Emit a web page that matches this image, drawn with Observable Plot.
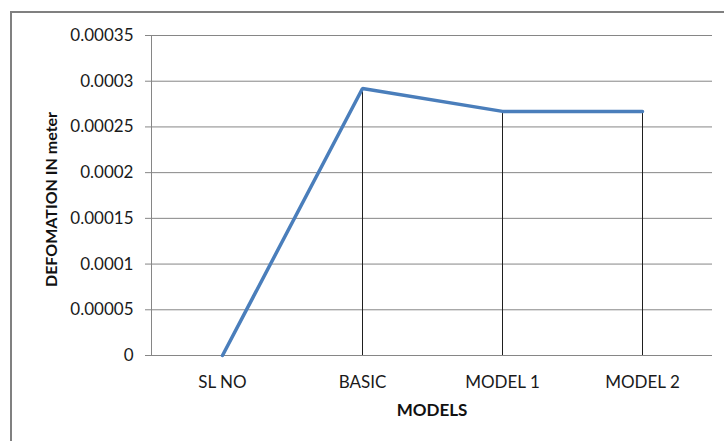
<!DOCTYPE html>
<html>
<head>
<meta charset="utf-8">
<script src="https://cdn.jsdelivr.net/npm/d3@7"></script>
<script src="https://cdn.jsdelivr.net/npm/@observablehq/plot@0.6"></script>
<style>
  html, body { margin: 0; padding: 0; background: #fff; overflow: hidden; }
  #wrap { position: relative; width: 724px; height: 441px; overflow: hidden; }
  #wrap svg { position: absolute; left: 0; top: 0; }
  #border { position: absolute; left: 10px; top: 11px; width: 760px; height: 480px;
            border-left: 2px solid #808080; border-top: 2px solid #808080; pointer-events: none; }
</style>
</head>
<body>
<div id="wrap"><div id="border"></div></div>
<script>
// Deformation of each model, in metres
const models = ["SL NO", "BASIC", "MODEL 1", "MODEL 2"];
const deformation = [0, 0.000292, 0.000267, 0.000267];
const yTicks = [0, 0.00005, 0.0001, 0.00015, 0.0002, 0.00025, 0.0003, 0.00035];
const yTickLabels = ["0", "0.00005", "0.0001", "0.00015", "0.0002", "0.00025", "0.0003", "0.00035"];

const rows = models.map((m, i) => ({model: m, value: deformation[i]}));
const font = "Lato, 'Open Sans', sans-serif";
const grey = "#868686";
const ink = "#1a1a1a";

const chart = Plot.plot({
  width: 724,
  height: 441,
  marginLeft: 151,
  marginRight: 12,
  marginTop: 35,
  marginBottom: 86,
  style: {fontFamily: font, fontSize: "17px", color: ink, background: "transparent"},
  x: {type: "point", domain: models, padding: 0.5},
  y: {domain: [0, 0.00035]},
  marks: [
    // horizontal gridlines
    Plot.ruleY(yTicks.slice(1), {stroke: grey, strokeWidth: 1}),
    // value axis line
    Plot.frame({anchor: "left", stroke: grey}),
    // category axis line
    Plot.ruleY([0], {stroke: grey, strokeWidth: 1}),
    // drop lines from each point down to the category axis
    Plot.ruleX(rows, {x: "model", y1: 0, y2: "value", stroke: "#1f1f1f", strokeWidth: 1}),
    // deformation line
    Plot.line(rows, {x: "model", y: "value", stroke: "#4A7EBB", strokeWidth: 3.5, strokeLinejoin: "miter"}),
    Plot.axisY(yTicks, {
      tickFormat: (d, i) => yTickLabels[i],
      tickSize: 6, tickPadding: 12, stroke: grey, label: null,
      fontSize: 17, fill: ink, style: {letterSpacing: "0.8px"}
    }),
    Plot.axisX({tickSize: 0, tickPadding: 20, label: null, fontSize: 17, fill: ink}),
    // axis titles
    Plot.text(["DEFOMATION IN meter"], {
      frameAnchor: "left", textAnchor: "middle", dx: -100, dy: 4, rotate: -90,
      fontWeight: "bold", fontSize: 16, fill: "#111"
    }),
    Plot.text(["MODELS"], {
      frameAnchor: "bottom", dy: 60, fontWeight: "bold", fontSize: 17, fill: "#111"
    })
  ]
});

document.getElementById("wrap").prepend(chart);
</script>
</body>
</html>
